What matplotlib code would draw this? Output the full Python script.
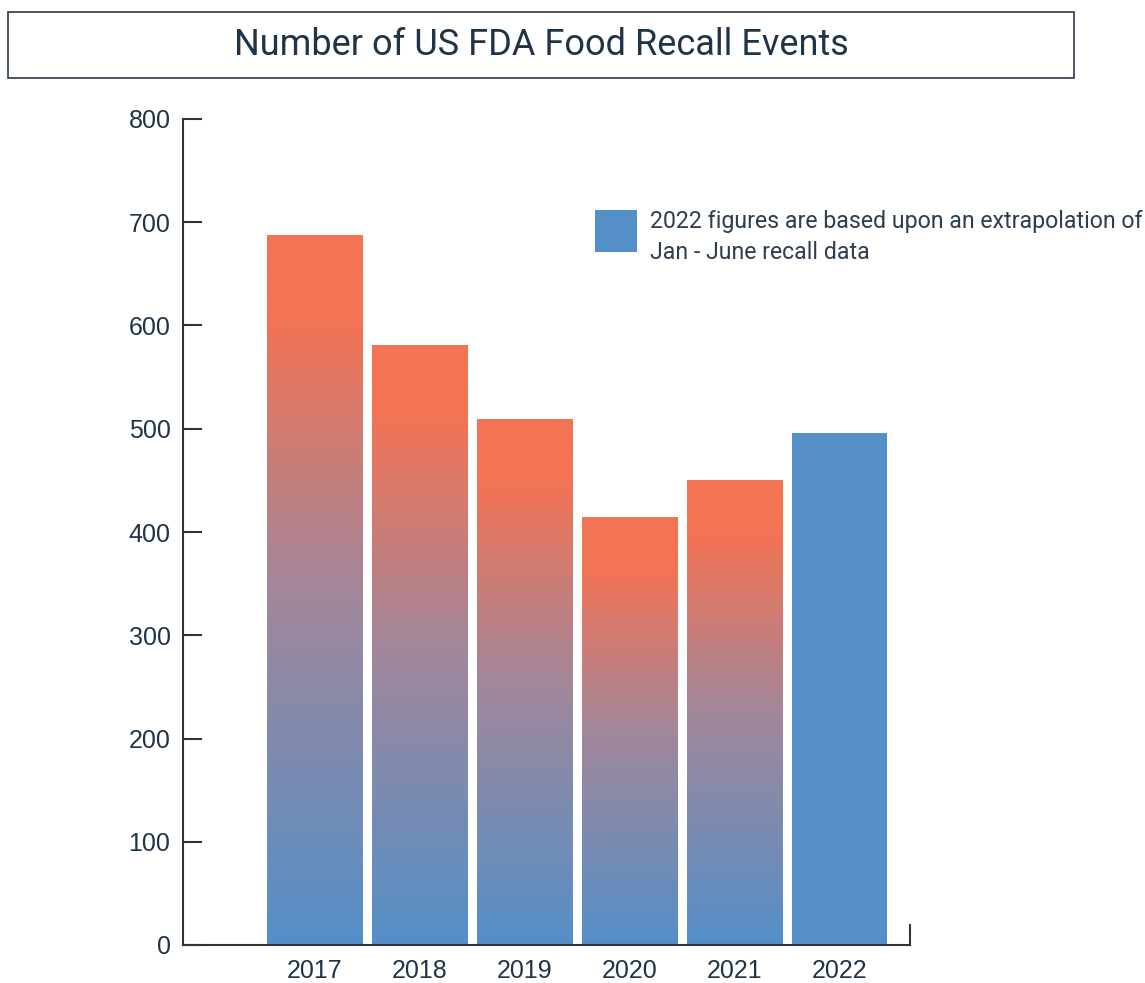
import numpy as np
import matplotlib
matplotlib.use("Agg")
import matplotlib.pyplot as plt
from matplotlib.colors import LinearSegmentedColormap
from matplotlib.patches import Rectangle

years = ["2017", "2018", "2019", "2020", "2021", "2022"]
recalls = [687, 581, 509, 414, 450, 496]
extrapolated = [False, False, False, False, False, True]

ORANGE = "#F37355"
BLUE = "#548FC8"
NAVY = "#1F3449"
AXIS = "#333333"

fig = plt.figure(figsize=(11.45, 9.83), dpi=100)
ax = fig.add_axes([183 / 1145, 38 / 983, 727 / 1145, 826 / 983])

# bar gradient: blue at the bottom, orange near the top
grad_cmap = LinearSegmentedColormap.from_list(
    "recall", [(0.0, BLUE), (0.5, "#A2879A"), (0.88, ORANGE), (1.0, ORANGE)])
grad = np.linspace(0, 1, 256).reshape(-1, 1)

width = 0.905
for i, (val, ext) in enumerate(zip(recalls, extrapolated)):
    x0 = i - width / 2
    if ext:
        ax.bar(i, val, width=width, color=BLUE, zorder=2)
    else:
        ax.imshow(grad, cmap=grad_cmap, origin="lower", aspect="auto",
                  extent=(x0, x0 + width, 0, val), zorder=2)

ax.set_xlim(-1.252, 5.671)
ax.set_ylim(0, 800)

# axes styling
for side in ["top", "right"]:
    ax.spines[side].set_visible(False)
for side in ["left", "bottom"]:
    ax.spines[side].set_color(AXIS)
    ax.spines[side].set_linewidth(1.5)
ax.plot([1, 1], [0, 20 / 826], transform=ax.transAxes, color=AXIS,
        lw=1.5, clip_on=False)

ax.set_yticks(range(0, 801, 100))
ax.tick_params(axis="y", direction="in", length=14, width=1.5, color=AXIS,
               labelsize=18, labelcolor=NAVY, pad=9)
ax.set_xticks(range(len(years)))
ax.set_xticklabels(years)
ax.tick_params(axis="x", length=0, labelsize=18, labelcolor=NAVY, pad=10)
for lbl in ax.get_xticklabels() + ax.get_yticklabels():
    lbl.set_fontfamily("Liberation Sans")

# title box
fig.patches.append(Rectangle((8 / 1145, 905 / 983), 1066 / 1145, 66 / 983,
                             transform=fig.transFigure, facecolor="white",
                             edgecolor="#2B3A4A", lw=1.2))
fig.text(541 / 1145, 938 / 983, "Number of US FDA Food Recall Events",
         ha="center", va="center", fontsize=26, color=NAVY,
         family="Roboto")

# note for 2022
fig.patches.append(Rectangle((595 / 1145, 731 / 983), 42 / 1145, 42 / 983,
                             transform=fig.transFigure, facecolor=BLUE,
                             edgecolor="none"))
fig.text(650 / 1145, 746 / 983,
         "2022 figures are based upon an extrapolation of\nJan - June recall data",
         ha="left", va="center", fontsize=16.7, color="#2E3E4E",
         family="Roboto", linespacing=1.48)

fig.savefig("out.png", dpi=100)
